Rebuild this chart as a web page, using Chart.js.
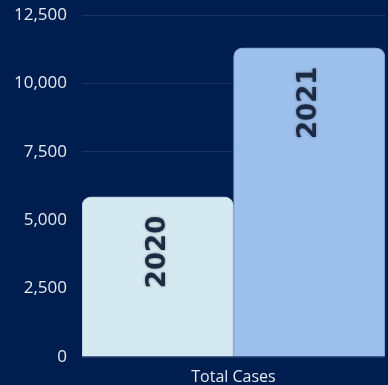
<!DOCTYPE html>
<html>
<head>
<meta charset="utf-8">
<script src="https://cdn.jsdelivr.net/npm/chart.js@4"></script>
<style>
  html, body { margin: 0; padding: 0; background: #001d4f; }
  #wrap { width: 388px; height: 385px; }
</style>
</head>
<body>
<div id="wrap"><canvas id="casesChart"></canvas></div>
<script>
const categories = ["Total Cases"];
const years = ["2020", "2021"];
const cases2020 = [5850];
const cases2021 = [11300];
const yTicks = [0, 2500, 5000, 7500, 10000, 12500];

// writes the year label sideways inside the top of each bar
const yearLabels = {
  id: "yearLabels",
  afterDatasetsDraw(chart) {
    const ctx = chart.ctx;
    chart.data.datasets.forEach((ds, i) => {
      chart.getDatasetMeta(i).data.forEach((bar) => {
        ctx.save();
        ctx.translate(bar.x, bar.y + 55);
        ctx.rotate(-Math.PI / 2);
        ctx.font = "bold 26px 'DejaVu Sans'";
        ctx.fillStyle = "#1c2a44";
        ctx.textAlign = "center";
        ctx.textBaseline = "middle";
        ctx.shadowColor = "rgba(0,0,0,0.35)";
        ctx.shadowBlur = 3;
        ctx.fillText(ds.label, 0, 0);
        ctx.restore();
      });
    });
  }
};

const ctx = document.getElementById("casesChart").getContext("2d");
new Chart(ctx, {
  type: "bar",
  data: {
    labels: categories,
    datasets: [
      {
        label: years[0],
        data: cases2020,
        backgroundColor: "#d5e9f0",
        borderColor: "#b4c9d8",
        borderWidth: 1,
        borderRadius: 9,
        borderSkipped: "start"
      },
      {
        label: years[1],
        data: cases2021,
        backgroundColor: "#9dbfec",
        borderColor: "#7196cc",
        borderWidth: 1,
        borderRadius: 9,
        borderSkipped: "start"
      }
    ]
  },
  options: {
    responsive: true,
    maintainAspectRatio: false,
    animation: false,
    layout: { padding: { top: 15, right: 3, bottom: 0, left: 0 } },
    datasets: { bar: { barPercentage: 1, categoryPercentage: 1 } },
    plugins: {
      legend: { display: false },
      tooltip: { enabled: false }
    },
    scales: {
      x: {
        afterFit(scale) { scale.height = 28; },
        grid: { display: false, drawTicks: false },
        border: { display: false },
        ticks: {
          color: "#e6ebf3",
          font: { family: "'Open Sans'", size: 16 },
          padding: 11
        }
      },
      y: {
        min: 0,
        max: 12500,
        afterFit(scale) {
          scale.width = 82;
          scale.paddingTop = 0;
          scale.paddingBottom = 0;
        },
        afterBuildTicks(scale) { scale.ticks = yTicks.map(v => ({ value: v })); },
        grid: { color: "#1a3565", drawTicks: false },
        border: { display: false },
        ticks: {
          color: "#e6ebf3",
          font: { family: "'Open Sans'", size: 17 },
          padding: 15,
          callback: (v) => v.toLocaleString("en-US")
        }
      }
    }
  },
  plugins: [yearLabels]
});
</script>
</body>
</html>
